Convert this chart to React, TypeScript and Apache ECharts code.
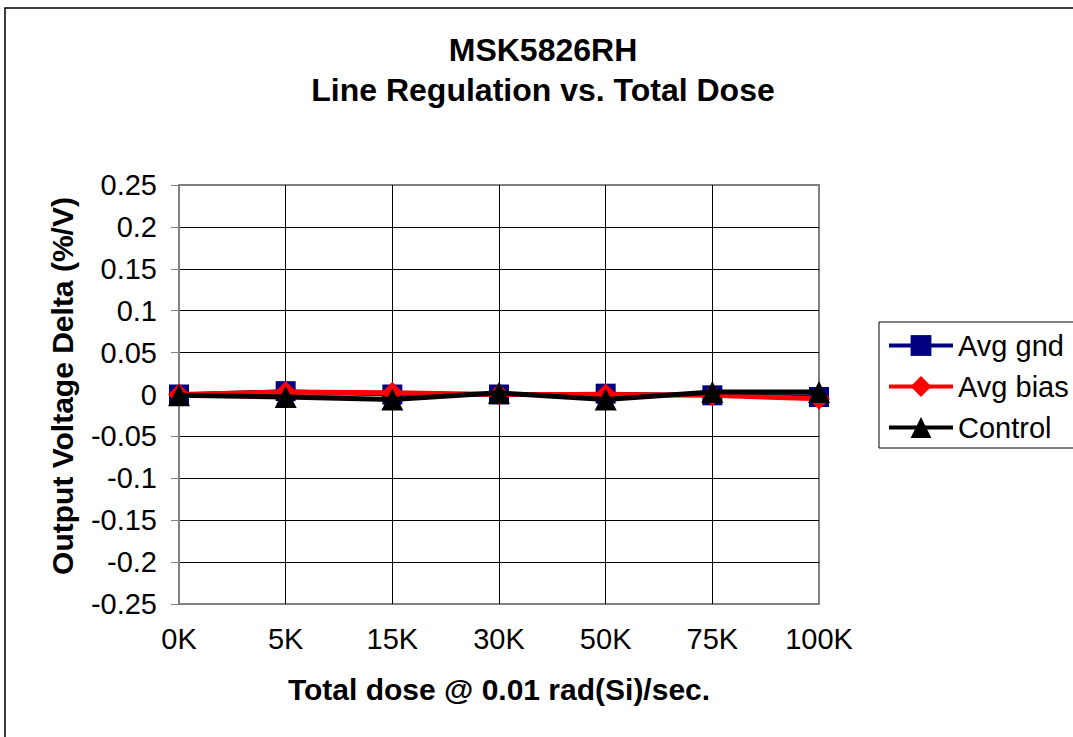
import React, { useEffect, useRef } from "react";
import * as echarts from "echarts";

const categories = ["0K", "5K", "15K", "30K", "50K", "75K", "100K"];
const avgGnd = [0, 0.004, 0, 0, 0.001, -0.001, -0.003];
const avgBias = [0, 0.003, 0.002, 0, 0, -0.001, -0.005];
const control = [-0.001, -0.003, -0.006, 0.002, -0.006, 0.003, 0.003];
const seriesNames = ["Avg gnd", "Avg bias", "Control"];
const titleLines = ["MSK5826RH", "Line Regulation vs. Total Dose"];
const xAxisTitle = "Total dose @ 0.01 rad(Si)/sec.";
const yAxisTitle = "Output Voltage Delta (%/V)";

const FONT = "Liberation Sans, Arial, sans-serif";

export default function App() {
  const ref = useRef<HTMLDivElement>(null);
  useEffect(() => {
    if (!ref.current) return;
    const chart = echarts.init(ref.current, null, { renderer: "svg" });
    chart.setOption({
      animation: false,
      backgroundColor: "#fff",
      textStyle: { fontFamily: FONT, color: "#000" },
      title: {
        text: titleLines.join("\n"),
        left: 543,
        textAlign: "center",
        top: 30,
        padding: 0,
        textStyle: { fontFamily: FONT, fontSize: 32, fontWeight: "bold", lineHeight: 40, color: "#000" },
      },
      graphic: [
        {
          type: "rect",
          shape: { x: 5, y: 8, width: 1100, height: 760 },
          style: { fill: "none", stroke: "#000", lineWidth: 1.5 },
          silent: true,
          z: -1,
        },
        {
          type: "text",
          x: 62,
          y: 386,
          rotation: Math.PI / 2,
          style: {
            text: yAxisTitle,
            fontFamily: FONT,
            fontSize: 30,
            fontWeight: "bold",
            fill: "#000",
            align: "center",
            verticalAlign: "middle",
          },
          silent: true,
        },
      ],
      legend: {
        orient: "vertical",
        left: 879,
        top: 322,
        padding: [9, 200, 6, 8],
        itemGap: 12,
        itemWidth: 64,
        itemHeight: 26,
        borderColor: "#000",
        borderWidth: 1,
        lineStyle: { width: 4 },
        textStyle: { fontFamily: FONT, fontSize: 29, color: "#000" },
        data: seriesNames,
      },
      grid: {
        left: 179,
        top: 185,
        width: 640,
        height: 419,
        show: true,
        borderColor: "#808080",
        borderWidth: 2,
        containLabel: false,
      },
      xAxis: {
        type: "category",
        data: categories,
        boundaryGap: false,
        name: xAxisTitle,
        nameLocation: "middle",
        nameGap: 70,
        nameTextStyle: { fontFamily: FONT, fontSize: 30, fontWeight: "bold", color: "#000" },
        axisLine: { show: true, lineStyle: { color: "#808080", width: 2 } },
        axisTick: { show: true, length: 8, inside: false, lineStyle: { color: "#808080", width: 1 } },
        axisLabel: { fontFamily: FONT, fontSize: 29, color: "#000", margin: 20 },
        splitLine: { show: true, showMinLine: false, showMaxLine: false, lineStyle: { color: "#000", width: 1 } },
      },
      yAxis: {
        type: "value",
        min: -0.25,
        max: 0.25,
        interval: 0.05,
        axisLine: { show: true, lineStyle: { color: "#808080", width: 2 } },
        axisTick: { show: true, length: 8, lineStyle: { color: "#808080", width: 1 } },
        axisLabel: {
          fontFamily: FONT,
          fontSize: 29,
          color: "#000",
          margin: 22,
          formatter: (v: number) => String(Number(v.toFixed(2))),
        },
        splitLine: { show: true, showMinLine: false, showMaxLine: false, lineStyle: { color: "#000", width: 1 } },
      },
      series: [
        {
          name: seriesNames[0],
          type: "line",
          data: avgGnd,
          symbol: "rect",
          symbolSize: 20,
          itemStyle: { color: "#000080" },
          lineStyle: { color: "#000080", width: 4 },
          z: 2,
        },
        {
          name: seriesNames[1],
          type: "line",
          data: avgBias,
          symbol: "diamond",
          symbolSize: 22,
          itemStyle: { color: "#ff0000" },
          lineStyle: { color: "#ff0000", width: 5 },
          z: 3,
        },
        {
          name: seriesNames[2],
          type: "line",
          data: control,
          symbol: "triangle",
          symbolSize: 22,
          itemStyle: { color: "#000" },
          lineStyle: { color: "#000", width: 5 },
          z: 4,
        },
      ],
    });
    return () => chart.dispose();
  }, []);
  return (
    <div
      ref={ref}
      style={{ position: "absolute", left: 0, top: 0, width: 1073, height: 737 }}
    />
  );
}
